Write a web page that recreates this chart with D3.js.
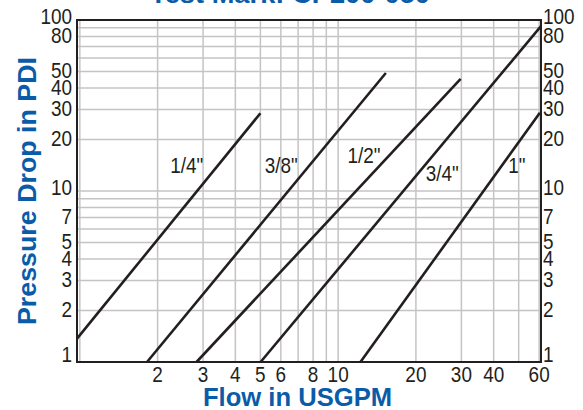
<!DOCTYPE html>
<html>
<head>
<meta charset="utf-8">
<script src="https://cdn.jsdelivr.net/npm/d3@7"></script>
<style>
  html, body { margin: 0; padding: 0; background: #fff; }
  svg { display: block; }
</style>
</head>
<body>
<svg id="chart" width="583" height="410"></svg>
<script>
// Pressure drop vs. flow, per hose/valve size (log-log)
const sizeNames = ['1/4"', '3/8"', '1/2"', '3/4"', '1"'];
// start / end points of each straight log-log line
const flowValues     = [[0.975, 5.0], [1.82, 15.3], [2.83, 29.8], [5.01, 61], [12.2, 60.4]];
const pressureValues = [[1.37, 28.5], [1.0, 49.0], [1.0, 45.2], [1.0, 92], [1.0, 28.7]];

const flowTickLabels = [2, 3, 4, 5, 6, 8, 10, 20, 30, 40, 60];
const pressureTickLabels = [1, 2, 3, 4, 5, 7, 10, 20, 30, 40, 50, 80, 100];

const titleText = "Test Mark: CP200-050";
const xTitle = "Flow in USGPM";
const yTitle = "Pressure Drop in PDI";

const BLUE = "#0b5ca8";
const INK = "#231f20";
const GRID = "#c4c4c4";
const TICK_FONT = "'Liberation Sans', Arial, sans-serif";
const BOLD_FONT = "'Liberation Sans', Arial, Helvetica, sans-serif";
const NARROW = 0.86; // condensed look for the plain labels

const plotL = 77, plotR = 541, plotT = 20, plotB = 362;

const x = d3.scaleLog().domain([0.975, 61]).range([plotL, plotR]);
const y = d3.scaleLog().domain([1, 100]).range([plotB, plotT]);

const svg = d3.select("#chart");

// squeeze a plain label horizontally
function condense(sel) {
  sel.each(function () {
    const w = this.getComputedTextLength();
    d3.select(this).attr("textLength", w * NARROW).attr("lengthAdjust", "spacingAndGlyphs");
  });
}

// grid
const g = svg.append("g");
g.selectAll("line.gx")
  .data(x.ticks().filter(v => v > x.domain()[0] && v < x.domain()[1]))
  .join("line")
  .attr("x1", d => x(d)).attr("x2", d => x(d))
  .attr("y1", plotT).attr("y2", plotB)
  .attr("stroke", GRID).attr("stroke-width", 1.5);
g.selectAll("line.gy")
  .data(y.ticks().filter(v => v > 1 && v < 100))
  .join("line")
  .attr("x1", plotL).attr("x2", plotR)
  .attr("y1", d => y(d)).attr("y2", d => y(d))
  .attr("stroke", GRID).attr("stroke-width", 1.5);

// frame
svg.append("rect")
  .attr("x", plotL).attr("y", plotT)
  .attr("width", plotR - plotL).attr("height", plotB - plotT)
  .attr("fill", "none").attr("stroke", INK).attr("stroke-width", 2);

// x tick labels
svg.append("g").selectAll("text")
  .data(flowTickLabels)
  .join("text")
  .attr("x", d => x(d))
  .attr("y", plotB + 20)
  .attr("text-anchor", "middle")
  .attr("font-family", TICK_FONT)
  .attr("font-size", 22)
  .attr("fill", INK)
  .text(d => d)
  .call(condense);

// y tick labels, both sides; decade labels sit a little higher
const yShift = d => d === 1 ? -8 : (d === 10 || d === 100 ? -4 : -1);
[["end", plotL - 5], ["start", plotR + 2]].forEach(([anchor, xp]) => {
  svg.append("g").selectAll("text")
    .data(pressureTickLabels)
    .join("text")
    .attr("x", xp)
    .attr("y", d => y(d) + yShift(d))
    .attr("dy", "0.36em")
    .attr("text-anchor", anchor)
    .attr("font-family", TICK_FONT)
    .attr("font-size", 22)
    .attr("fill", INK)
    .text(d => d)
    .call(condense);
});

// size lines
const line = d3.line().x(d => x(d[0])).y(d => y(d[1]));
const series = sizeNames.map((name, i) => ({
  name,
  pts: flowValues[i].map((f, j) => [f, pressureValues[i][j]])
}));
svg.append("g").selectAll("path")
  .data(series)
  .join("path")
  .attr("d", d => line(d.pts))
  .attr("fill", "none")
  .attr("stroke", INK)
  .attr("stroke-width", 2.6);

// size labels, set beside each line at a given pressure
const labelSpots = [
  { p: 14.2, anchor: "end", dx: -15 },
  { p: 14.2, anchor: "end", dx: -12 },
  { p: 16.2, anchor: "end", dx: -9 },
  { p: 12.8, anchor: "start", dx: 7 },
  { p: 14.2, anchor: "start", dx: 6 }
];
series.forEach((s, i) => {
  const spot = labelSpots[i];
  const [a, b] = s.pts;
  const t = (Math.log(spot.p) - Math.log(a[1])) / (Math.log(b[1]) - Math.log(a[1]));
  const f = Math.exp(Math.log(a[0]) + t * (Math.log(b[0]) - Math.log(a[0])));
  svg.append("text")
    .attr("x", x(f) + spot.dx)
    .attr("y", y(spot.p))
    .attr("dy", "0.36em")
    .attr("text-anchor", spot.anchor)
    .attr("font-family", TICK_FONT)
    .attr("font-size", 22)
    .attr("fill", INK)
    .text(s.name)
    .call(condense);
});

// titles
svg.append("text")
  .attr("x", 290).attr("y", 3)
  .attr("text-anchor", "middle")
  .attr("font-family", BOLD_FONT).attr("font-weight", 900)
  .attr("font-size", 25).attr("fill", BLUE)
  .attr("textLength", 280).attr("lengthAdjust", "spacingAndGlyphs")
  .text(titleText);

svg.append("text")
  .attr("x", 297.5).attr("y", 406)
  .attr("text-anchor", "middle")
  .attr("font-family", BOLD_FONT).attr("font-weight", 900)
  .attr("font-size", 25).attr("fill", BLUE)
  .attr("textLength", 189).attr("lengthAdjust", "spacingAndGlyphs")
  .text(xTitle);

svg.append("text")
  .attr("transform", "translate(36,191) rotate(-90)")
  .attr("text-anchor", "middle")
  .attr("font-family", BOLD_FONT).attr("font-weight", 900)
  .attr("font-size", 26).attr("fill", BLUE)
  .attr("textLength", 268).attr("lengthAdjust", "spacingAndGlyphs")
  .text(yTitle);
</script>
</body>
</html>
